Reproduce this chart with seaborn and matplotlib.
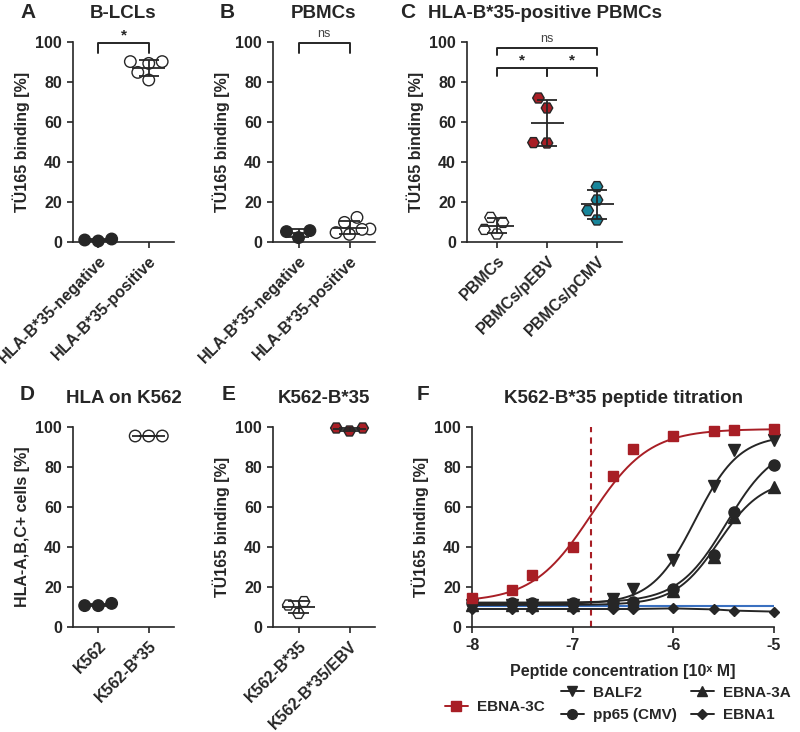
import numpy as np
import pandas as pd
import matplotlib
matplotlib.use("Agg")
import matplotlib.pyplot as plt
import seaborn as sns
from matplotlib.lines import Line2D

sns.set_style("ticks")
plt.rcParams["font.family"] = ["Liberation Sans", "DejaVu Sans"]
plt.rcParams["font.weight"] = "bold"
plt.rcParams["axes.labelweight"] = "bold"
plt.rcParams["axes.unicode_minus"] = False

RED = "#a81e25"
TEAL = "#18869b"
DARK = "#262626"
BLUE = "#3a70c0"

# --- Panel A: B-LCLs ---
a_groups = ["HLA-B*35-negative", "HLA-B*35-positive"]
a_neg = [0.5, 1.5, 1.0]
a_pos = [90.2, 89.3, 90.2, 81.0, 84.8]

# --- Panel B: PBMCs ---
b_groups = ["HLA-B*35-negative", "HLA-B*35-positive"]
b_neg = [2.2, 5.7, 5.2]
b_pos = [9.8, 12.3, 3.8, 6.5, 4.7, 6.3]

# --- Panel C: HLA-B*35-positive PBMCs ---
c_groups = ["PBMCs", "PBMCs/pEBV", "PBMCs/pCMV"]
c_pbmc = [9.8, 12.3, 4.0, 6.3]
c_pebv = [67.0, 72.0, 49.5, 49.7]
c_pcmv = [27.7, 21.0, 15.7, 11.0]

# --- Panel D: HLA on K562 ---
d_groups = ["K562", "K562-B*35"]
d_k562 = [10.7, 11.8, 10.7]
d_b35 = [95.5, 95.5, 95.5]

# --- Panel E: K562-B*35 ---
e_groups = ["K562-B*35", "K562-B*35/EBV"]
e_b35 = [12.7, 6.8, 11.0]
e_ebv = [98.0, 99.5, 99.5]

# --- Panel F: peptide titration ---
log_conc = [-8, -7.6, -7.4, -7, -6.6, -6.4, -6, -5.6, -5.4, -5]
ebna3c = [14.5, 18.5, 26, 40, 75.5, 89, 95.5, 98, 98.5, 99]
balf2 = [11, 11, 11, 11, 14, 19, 33.5, 70.5, 88.5, 93.5]
pp65 = [12, 12, 12, 12, 12.5, 12.5, 19, 36, 57.5, 81]
ebna3a = [11, 11, 11, 11, 12, 12, 18, 35, 55, 70]
ebna1 = [9, 9, 9, 9, 9, 9, 9.3, 8.8, 8.2, 7.7]
background = 10.3
ec50_ebna3c = -6.82
# 4PL fit parameters: bottom, top, logEC50, hill
fit_ebna3c = [12.5, 99, -6.82, 1.5]
fit_balf2 = [11.5, 96, -5.78, 2.0]
fit_pp65 = [12.2, 92, -5.47, 1.8]
fit_ebna3a = [11.0, 74, -5.55, 2.0]

fig = plt.figure(figsize=(8, 7.32), dpi=100)

TICK_FS = 11.5
LABEL_FS = 11.5


def style_axis(ax, ylabel):
    sns.despine(ax=ax)
    for sp in ("left", "bottom"):
        ax.spines[sp].set_linewidth(1.2)
        ax.spines[sp].set_color(DARK)
    ax.tick_params(axis="both", width=1.2, length=4.5, color=DARK,
                   labelsize=TICK_FS, labelcolor=DARK)
    ax.set_ylim(0, 100)
    ax.set_yticks(range(0, 101, 20))
    ax.set_ylabel(ylabel, fontsize=LABEL_FS, fontweight="bold", color=DARK)
    ax.set_xlabel("")


def dot_panel(ax, groups, values, faces, marker, title, ylabel, xlim):
    df = pd.DataFrame({
        "group": [g for g, v in zip(groups, values) for _ in v],
        "value": [x for v in values for x in v],
    })
    sns.swarmplot(data=df, x="group", y="value", hue="group", order=groups,
                  palette=dict(zip(groups, faces)), marker=marker, size=8.3,
                  edgecolor=DARK, linewidth=1.0, legend=False, ax=ax, zorder=3)
    for c in ax.collections:
        c.set_clip_on(False)
    for i, v in enumerate(values):
        m = np.mean(v)
        s = np.std(v, ddof=1)
        ax.hlines(m, i - 0.33, i + 0.33, color=DARK, lw=1.3, zorder=4)
        ax.hlines([m - s, m + s], i - 0.2, i + 0.2, color=DARK, lw=1.3, zorder=4)
        ax.vlines(i, m - s, m + s, color=DARK, lw=1.3, zorder=4)
    style_axis(ax, ylabel)
    ax.set_xlim(*xlim)
    ax.set_xticks(range(len(groups)))
    ax.set_xticklabels(groups, rotation=45, ha="right", rotation_mode="anchor")
    ax.set_title(title, fontsize=13.5, fontweight="bold", pad=17, color=DARK)


def bracket(ax, x0, x1, y, drop, label, star=True):
    ax.plot([x0, x0, x1, x1], [y - drop, y, y, y - drop], color=DARK,
            lw=1.4, clip_on=False, zorder=5)
    if label:
        if star:
            ax.text((x0 + x1) / 2, y + 0.5, label, ha="center", va="bottom",
                    fontsize=11, fontweight="bold", color=DARK)
        else:
            ax.text((x0 + x1) / 2, y + 1.5, label, ha="center", va="bottom",
                    fontsize=9, fontweight="normal", color="#444444")


top_b, h = 1 - 242 / 732, 200 / 732
bot_b = 1 - 627 / 732

axA = fig.add_axes([73 / 800, top_b, 101 / 800, h])
axB = fig.add_axes([273 / 800, top_b, 102 / 800, h])
axC = fig.add_axes([467 / 800, top_b, 155 / 800, h])
axD = fig.add_axes([73 / 800, bot_b, 101 / 800, h])
axE = fig.add_axes([273 / 800, bot_b, 102 / 800, h])
axF = fig.add_axes([472 / 800, bot_b, 302 / 800, h])

ylab = "TÜ165 binding [%]"
dot_panel(axA, a_groups, [a_neg, a_pos], [DARK, "white"], "o", "B-LCLs", ylab, (-0.5, 1.5))
bracket(axA, 0, 1, 99.5, 5, "*")

dot_panel(axB, b_groups, [b_neg, b_pos], [DARK, "white"], "o", "PBMCs", ylab, (-0.5, 1.5))
bracket(axB, 0, 1, 99.5, 5, "ns", star=False)

dot_panel(axC, c_groups, [c_pbmc, c_pebv, c_pcmv], ["white", RED, TEAL], "H",
          "HLA-B*35-positive PBMCs", ylab, (-0.6, 2.5))
bracket(axC, 0, 2, 97, 3.5, "ns", star=False)
bracket(axC, 0, 1, 87, 4, "*")
bracket(axC, 1, 2, 87, 4, "*")

dot_panel(axD, d_groups, [d_k562, d_b35], [DARK, "white"], "o", "HLA on K562",
          "HLA-A,B,C+ cells [%]", (-0.5, 1.5))
dot_panel(axE, e_groups, [e_b35, e_ebv], ["white", RED], "H", "K562-B*35", ylab, (-0.5, 1.5))


# --- Panel F ---
def four_pl(xs, p):
    b, t, ec, hl = p
    return b + (t - b) / (1 + 10 ** ((ec - xs) * hl))


grid = np.linspace(-8, -5, 300)
series = [
    ("EBNA-3C", ebna3c, fit_ebna3c, RED, "s", 7.5),
    ("BALF2", balf2, fit_balf2, DARK, "v", 8),
    ("pp65 (CMV)", pp65, fit_pp65, DARK, "o", 8),
    ("EBNA-3A", ebna3a, fit_ebna3a, DARK, "^", 8),
]
axF.plot([-8, -5], [background, background], color=BLUE, lw=1.5, zorder=2)
sns.lineplot(x=log_conc, y=ebna1, color=DARK, lw=1.4, ax=axF, zorder=3)
axF.plot(log_conc, ebna1, ls="none", marker="D", ms=5.5, color=DARK, zorder=4, clip_on=False)
for name, vals, fit, col, mk, ms in series[::-1]:
    sns.lineplot(x=grid, y=four_pl(grid, fit), color=col, lw=1.4, ax=axF, zorder=3)
    axF.plot(log_conc, vals, ls="none", marker=mk, ms=ms, color=col, zorder=4, clip_on=False)
axF.axvline(ec50_ebna3c, color=RED, ls=(0, (3, 2.5)), lw=1.5, zorder=2)
style_axis(axF, ylab)
axF.set_xlim(-8, -5)
axF.set_xticks([-8, -7, -6, -5])
axF.set_xlabel("Peptide concentration [10ˣ M]", fontsize=LABEL_FS, fontweight="bold",
               color=DARK, labelpad=8)
axF.set_title("K562-B*35 peptide titration", fontsize=13.5, fontweight="bold",
              pad=17, color=DARK)

h_3c = Line2D([], [], color=RED, marker="s", ms=7, lw=1.4)
h_balf2 = Line2D([], [], color=DARK, marker="v", ms=7, lw=1.4)
h_pp65 = Line2D([], [], color=DARK, marker="o", ms=7, lw=1.4)
h_3a = Line2D([], [], color=DARK, marker="^", ms=7, lw=1.4)
h_e1 = Line2D([], [], color=DARK, marker="D", ms=5.5, lw=1.4)
leg_kw = dict(frameon=False, handlelength=1.5, handletextpad=0.6, borderpad=0,
              borderaxespad=0, prop={"size": 11, "weight": "bold"})
l1 = fig.legend([h_3c], ["EBNA-3C"], loc="center left",
                bbox_to_anchor=(445 / 800, 1 - 707 / 732), **leg_kw)
l2 = fig.legend([h_balf2, h_pp65, h_3a, h_e1], ["BALF2", "pp65 (CMV)", "EBNA-3A", "EBNA1"],
                loc="center left", bbox_to_anchor=(561 / 800, 1 - 704 / 732), ncol=2,
                columnspacing=0.9, labelspacing=0.55, **leg_kw)
for leg in (l1, l2):
    for t in leg.get_texts():
        t.set_color(DARK)

# panel letters
for letter, px, py in [("A", 20, 13), ("B", 220, 13), ("C", 400, 13),
                       ("D", 20, 395), ("E", 222, 395), ("F", 417, 395)]:
    fig.text(px / 800, 1 - py / 732, letter, ha="left", va="center",
             fontsize=15, fontweight="bold", color=DARK)

fig.savefig("out.png", dpi=100)
